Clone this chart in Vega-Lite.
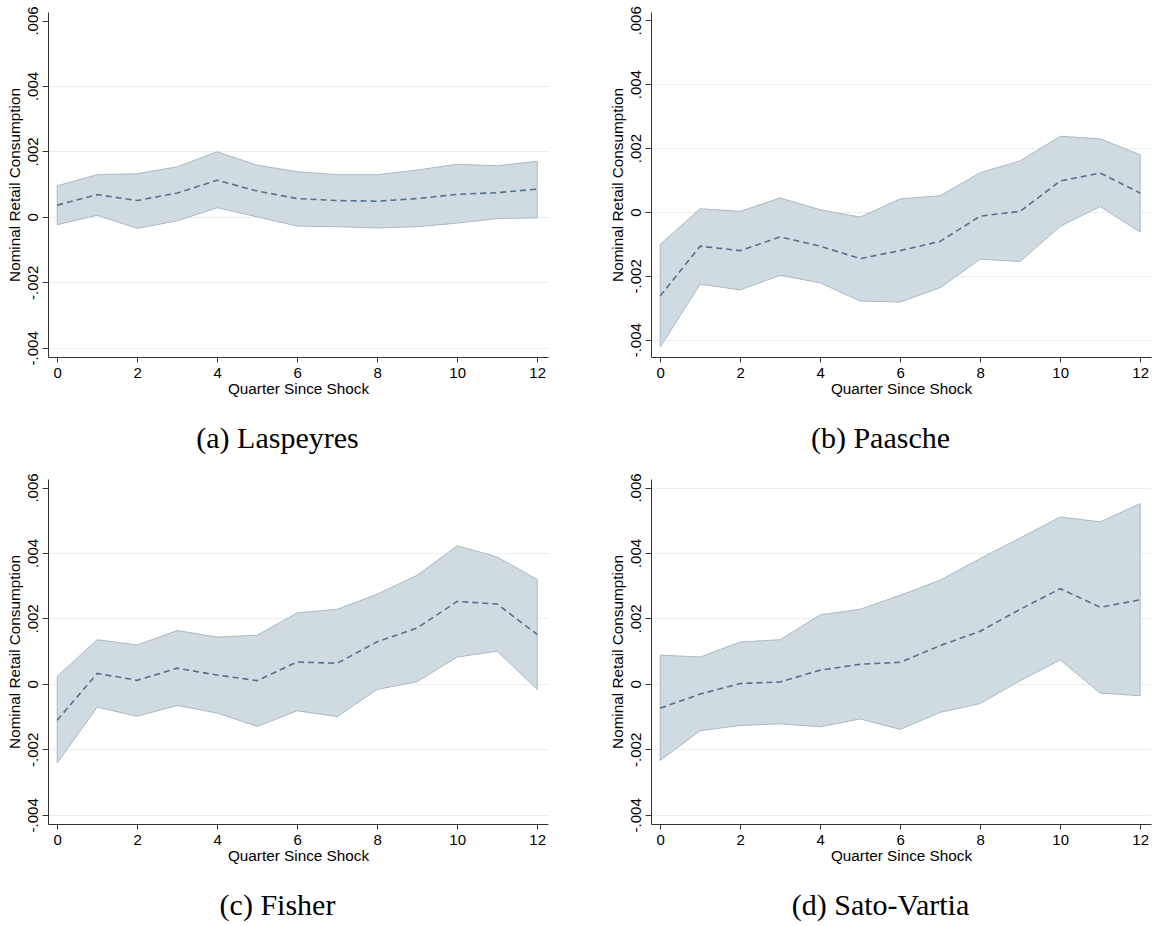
{
  "$schema": "https://vega.github.io/schema/vega-lite/v6.json",
  "background": "white",
  "padding": {"left": 7, "top": 5, "right": 5, "bottom": 0},
  "config": {
    "view": {"stroke": null},
    "axis": {
      "labelFont": "Liberation Sans",
      "titleFont": "Liberation Sans",
      "labelFontSize": 15,
      "titleFontSize": 15.3,
      "titleFontWeight": "normal",
      "labelColor": "#000000",
      "titleColor": "#000000",
      "domainColor": "#333333",
      "tickColor": "#333333",
      "grid": false
    },
    "title": {
      "font": "Liberation Serif",
      "fontSize": 30,
      "fontWeight": "normal",
      "color": "#000000"
    }
  },
  "datasets": {
    "irf": [
      {"panel": "a", "q": 0, "est": 0.00036, "lo": -0.00024, "hi": 0.00095},
      {"panel": "a", "q": 1, "est": 0.00068, "lo": 0.00005, "hi": 0.00129},
      {"panel": "a", "q": 2, "est": 0.00050, "lo": -0.00035, "hi": 0.00132},
      {"panel": "a", "q": 3, "est": 0.00073, "lo": -0.00012, "hi": 0.00153},
      {"panel": "a", "q": 4, "est": 0.00112, "lo": 0.00028, "hi": 0.00199},
      {"panel": "a", "q": 5, "est": 0.00079, "lo": 0.00000, "hi": 0.00158},
      {"panel": "a", "q": 6, "est": 0.00056, "lo": -0.00028, "hi": 0.00138},
      {"panel": "a", "q": 7, "est": 0.00050, "lo": -0.00030, "hi": 0.00129},
      {"panel": "a", "q": 8, "est": 0.00048, "lo": -0.00034, "hi": 0.00129},
      {"panel": "a", "q": 9, "est": 0.00056, "lo": -0.00030, "hi": 0.00143},
      {"panel": "a", "q": 10, "est": 0.00069, "lo": -0.00019, "hi": 0.00161},
      {"panel": "a", "q": 11, "est": 0.00074, "lo": -0.00005, "hi": 0.00156},
      {"panel": "a", "q": 12, "est": 0.00085, "lo": -0.00003, "hi": 0.00170},

      {"panel": "b", "q": 0, "est": -0.00263, "lo": -0.00423, "hi": -0.00101},
      {"panel": "b", "q": 1, "est": -0.00107, "lo": -0.00226, "hi": 0.00010},
      {"panel": "b", "q": 2, "est": -0.00121, "lo": -0.00244, "hi": 0.00002},
      {"panel": "b", "q": 3, "est": -0.00078, "lo": -0.00198, "hi": 0.00044},
      {"panel": "b", "q": 4, "est": -0.00107, "lo": -0.00222, "hi": 0.00007},
      {"panel": "b", "q": 5, "est": -0.00146, "lo": -0.00279, "hi": -0.00016},
      {"panel": "b", "q": 6, "est": -0.00121, "lo": -0.00282, "hi": 0.00041},
      {"panel": "b", "q": 7, "est": -0.00092, "lo": -0.00237, "hi": 0.00051},
      {"panel": "b", "q": 8, "est": -0.00013, "lo": -0.00148, "hi": 0.00123},
      {"panel": "b", "q": 9, "est": 0.00002, "lo": -0.00155, "hi": 0.00160},
      {"panel": "b", "q": 10, "est": 0.00097, "lo": -0.00045, "hi": 0.00237},
      {"panel": "b", "q": 11, "est": 0.00122, "lo": 0.00017, "hi": 0.00229},
      {"panel": "b", "q": 12, "est": 0.00059, "lo": -0.00063, "hi": 0.00179},

      {"panel": "c", "q": 0, "est": -0.00111, "lo": -0.00242, "hi": 0.00023},
      {"panel": "c", "q": 1, "est": 0.00032, "lo": -0.00071, "hi": 0.00135},
      {"panel": "c", "q": 2, "est": 0.00011, "lo": -0.00099, "hi": 0.00119},
      {"panel": "c", "q": 3, "est": 0.00048, "lo": -0.00066, "hi": 0.00163},
      {"panel": "c", "q": 4, "est": 0.00027, "lo": -0.00089, "hi": 0.00143},
      {"panel": "c", "q": 5, "est": 0.00010, "lo": -0.00130, "hi": 0.00149},
      {"panel": "c", "q": 6, "est": 0.00067, "lo": -0.00082, "hi": 0.00217},
      {"panel": "c", "q": 7, "est": 0.00063, "lo": -0.00100, "hi": 0.00228},
      {"panel": "c", "q": 8, "est": 0.00129, "lo": -0.00017, "hi": 0.00274},
      {"panel": "c", "q": 9, "est": 0.00171, "lo": 0.00007, "hi": 0.00332},
      {"panel": "c", "q": 10, "est": 0.00252, "lo": 0.00082, "hi": 0.00422},
      {"panel": "c", "q": 11, "est": 0.00244, "lo": 0.00100, "hi": 0.00388},
      {"panel": "c", "q": 12, "est": 0.00151, "lo": -0.00017, "hi": 0.00319},

      {"panel": "d", "q": 0, "est": -0.00074, "lo": -0.00234, "hi": 0.00088},
      {"panel": "d", "q": 1, "est": -0.00031, "lo": -0.00143, "hi": 0.00082},
      {"panel": "d", "q": 2, "est": 0.00001, "lo": -0.00127, "hi": 0.00128},
      {"panel": "d", "q": 3, "est": 0.00006, "lo": -0.00122, "hi": 0.00135},
      {"panel": "d", "q": 4, "est": 0.00042, "lo": -0.00131, "hi": 0.00211},
      {"panel": "d", "q": 5, "est": 0.00060, "lo": -0.00107, "hi": 0.00228},
      {"panel": "d", "q": 6, "est": 0.00066, "lo": -0.00139, "hi": 0.00271},
      {"panel": "d", "q": 7, "est": 0.00117, "lo": -0.00087, "hi": 0.00317},
      {"panel": "d", "q": 8, "est": 0.00161, "lo": -0.00060, "hi": 0.00383},
      {"panel": "d", "q": 9, "est": 0.00228, "lo": 0.00010, "hi": 0.00446},
      {"panel": "d", "q": 10, "est": 0.00291, "lo": 0.00073, "hi": 0.00510},
      {"panel": "d", "q": 11, "est": 0.00234, "lo": -0.00028, "hi": 0.00495},
      {"panel": "d", "q": 12, "est": 0.00257, "lo": -0.00036, "hi": 0.00551}
    ]
  },
  "data": {"name": "irf"},
  "columns": 2,
  "spacing": {"row": 17, "column": 62},
  "concat": [
    {
      "width": 500,
      "height": 345,
      "title": {"text": "(a) Laspeyres", "orient": "bottom", "frame": "bounds", "anchor": "middle", "offset": 28},
      "transform": [{"filter": "datum.panel == 'a'"}],
      "encoding": {
        "x": {
          "field": "q", "type": "quantitative",
          "scale": {"domain": [-0.23, 12.27], "nice": false, "zero": false},
          "axis": {"values": [0, 2, 4, 6, 8, 10, 12], "tickSize": 5, "labelPadding": 3, "labelFlush": false, "title": "Quarter Since Shock", "titlePadding": 1}
        }
      },
      "layer": [
        {
          "mark": {"type": "area", "fill": "#d0dae1", "stroke": "#a9bac6", "strokeWidth": 1},
          "encoding": {
            "y": {
              "field": "lo", "type": "quantitative",
              "scale": {"domain": [-0.00428, 0.00626], "nice": false, "zero": false},
              "axis": {
                "values": [-0.004, -0.002, 0, 0.002, 0.004, 0.006],
                "labelExpr": "datum.value == 0 ? '0' : (datum.value < 0 ? '-' : '') + slice(format(abs(datum.value), '.3f'), 1)",
                "labelAngle": -90, "labelAlign": "center", "labelBaseline": "bottom",
                "tickSize": 6, "labelPadding": 2,
                "grid": true, "gridColor": "#e6eff1", "gridWidth": 1,
                "gridOpacity": {"condition": {"test": "datum.value > 0.005", "value": 0}, "value": 1},
                "title": "Nominal Retail Consumption", "titlePadding": 3
              }
            },
            "y2": {"field": "hi"}
          }
        },
        {
          "mark": {"type": "line", "color": "#56708a", "strokeDash": [6, 4], "strokeWidth": 1.6},
          "encoding": {"y": {"field": "est", "type": "quantitative"}}
        }
      ]
    },
    {
      "width": 500,
      "height": 345,
      "title": {"text": "(b) Paasche", "orient": "bottom", "frame": "bounds", "anchor": "middle", "offset": 28},
      "transform": [{"filter": "datum.panel == 'b'"}],
      "encoding": {
        "x": {
          "field": "q", "type": "quantitative",
          "scale": {"domain": [-0.23, 12.27], "nice": false, "zero": false},
          "axis": {"values": [0, 2, 4, 6, 8, 10, 12], "tickSize": 5, "labelPadding": 3, "labelFlush": false, "title": "Quarter Since Shock", "titlePadding": 1}
        }
      },
      "layer": [
        {
          "mark": {"type": "area", "fill": "#d0dae1", "stroke": "#a9bac6", "strokeWidth": 1},
          "encoding": {
            "y": {
              "field": "lo", "type": "quantitative",
              "scale": {"domain": [-0.00454, 0.00626], "nice": false, "zero": false},
              "axis": {
                "values": [-0.004, -0.002, 0, 0.002, 0.004, 0.006],
                "labelExpr": "datum.value == 0 ? '0' : (datum.value < 0 ? '-' : '') + slice(format(abs(datum.value), '.3f'), 1)",
                "labelAngle": -90, "labelAlign": "center", "labelBaseline": "bottom",
                "tickSize": 6, "labelPadding": 2,
                "grid": true, "gridColor": "#e6eff1", "gridWidth": 1,
                "gridOpacity": {"condition": {"test": "datum.value > 0.005", "value": 0}, "value": 1},
                "title": "Nominal Retail Consumption", "titlePadding": 3
              }
            },
            "y2": {"field": "hi"}
          }
        },
        {
          "mark": {"type": "line", "color": "#56708a", "strokeDash": [6, 4], "strokeWidth": 1.6},
          "encoding": {"y": {"field": "est", "type": "quantitative"}}
        }
      ]
    },
    {
      "width": 500,
      "height": 345,
      "title": {"text": "(c) Fisher", "orient": "bottom", "frame": "bounds", "anchor": "middle", "offset": 28},
      "transform": [{"filter": "datum.panel == 'c'"}],
      "encoding": {
        "x": {
          "field": "q", "type": "quantitative",
          "scale": {"domain": [-0.23, 12.27], "nice": false, "zero": false},
          "axis": {"values": [0, 2, 4, 6, 8, 10, 12], "tickSize": 5, "labelPadding": 3, "labelFlush": false, "title": "Quarter Since Shock", "titlePadding": 1}
        }
      },
      "layer": [
        {
          "mark": {"type": "area", "fill": "#d0dae1", "stroke": "#a9bac6", "strokeWidth": 1},
          "encoding": {
            "y": {
              "field": "lo", "type": "quantitative",
              "scale": {"domain": [-0.00428, 0.00626], "nice": false, "zero": false},
              "axis": {
                "values": [-0.004, -0.002, 0, 0.002, 0.004, 0.006],
                "labelExpr": "datum.value == 0 ? '0' : (datum.value < 0 ? '-' : '') + slice(format(abs(datum.value), '.3f'), 1)",
                "labelAngle": -90, "labelAlign": "center", "labelBaseline": "bottom",
                "tickSize": 6, "labelPadding": 2,
                "grid": true, "gridColor": "#e6eff1", "gridWidth": 1,
                "gridOpacity": {"condition": {"test": "datum.value > 0.005", "value": 0}, "value": 1},
                "title": "Nominal Retail Consumption", "titlePadding": 3
              }
            },
            "y2": {"field": "hi"}
          }
        },
        {
          "mark": {"type": "line", "color": "#56708a", "strokeDash": [6, 4], "strokeWidth": 1.6},
          "encoding": {"y": {"field": "est", "type": "quantitative"}}
        }
      ]
    },
    {
      "width": 500,
      "height": 345,
      "title": {"text": "(d) Sato-Vartia", "orient": "bottom", "frame": "bounds", "anchor": "middle", "offset": 28},
      "transform": [{"filter": "datum.panel == 'd'"}],
      "encoding": {
        "x": {
          "field": "q", "type": "quantitative",
          "scale": {"domain": [-0.23, 12.27], "nice": false, "zero": false},
          "axis": {"values": [0, 2, 4, 6, 8, 10, 12], "tickSize": 5, "labelPadding": 3, "labelFlush": false, "title": "Quarter Since Shock", "titlePadding": 1}
        }
      },
      "layer": [
        {
          "mark": {"type": "area", "fill": "#d0dae1", "stroke": "#a9bac6", "strokeWidth": 1},
          "encoding": {
            "y": {
              "field": "lo", "type": "quantitative",
              "scale": {"domain": [-0.00428, 0.00626], "nice": false, "zero": false},
              "axis": {
                "values": [-0.004, -0.002, 0, 0.002, 0.004, 0.006],
                "labelExpr": "datum.value == 0 ? '0' : (datum.value < 0 ? '-' : '') + slice(format(abs(datum.value), '.3f'), 1)",
                "labelAngle": -90, "labelAlign": "center", "labelBaseline": "bottom",
                "tickSize": 6, "labelPadding": 2,
                "grid": true, "gridColor": "#e6eff1", "gridWidth": 1,
                "title": "Nominal Retail Consumption", "titlePadding": 3
              }
            },
            "y2": {"field": "hi"}
          }
        },
        {
          "mark": {"type": "line", "color": "#56708a", "strokeDash": [6, 4], "strokeWidth": 1.6},
          "encoding": {"y": {"field": "est", "type": "quantitative"}}
        }
      ]
    }
  ]
}
